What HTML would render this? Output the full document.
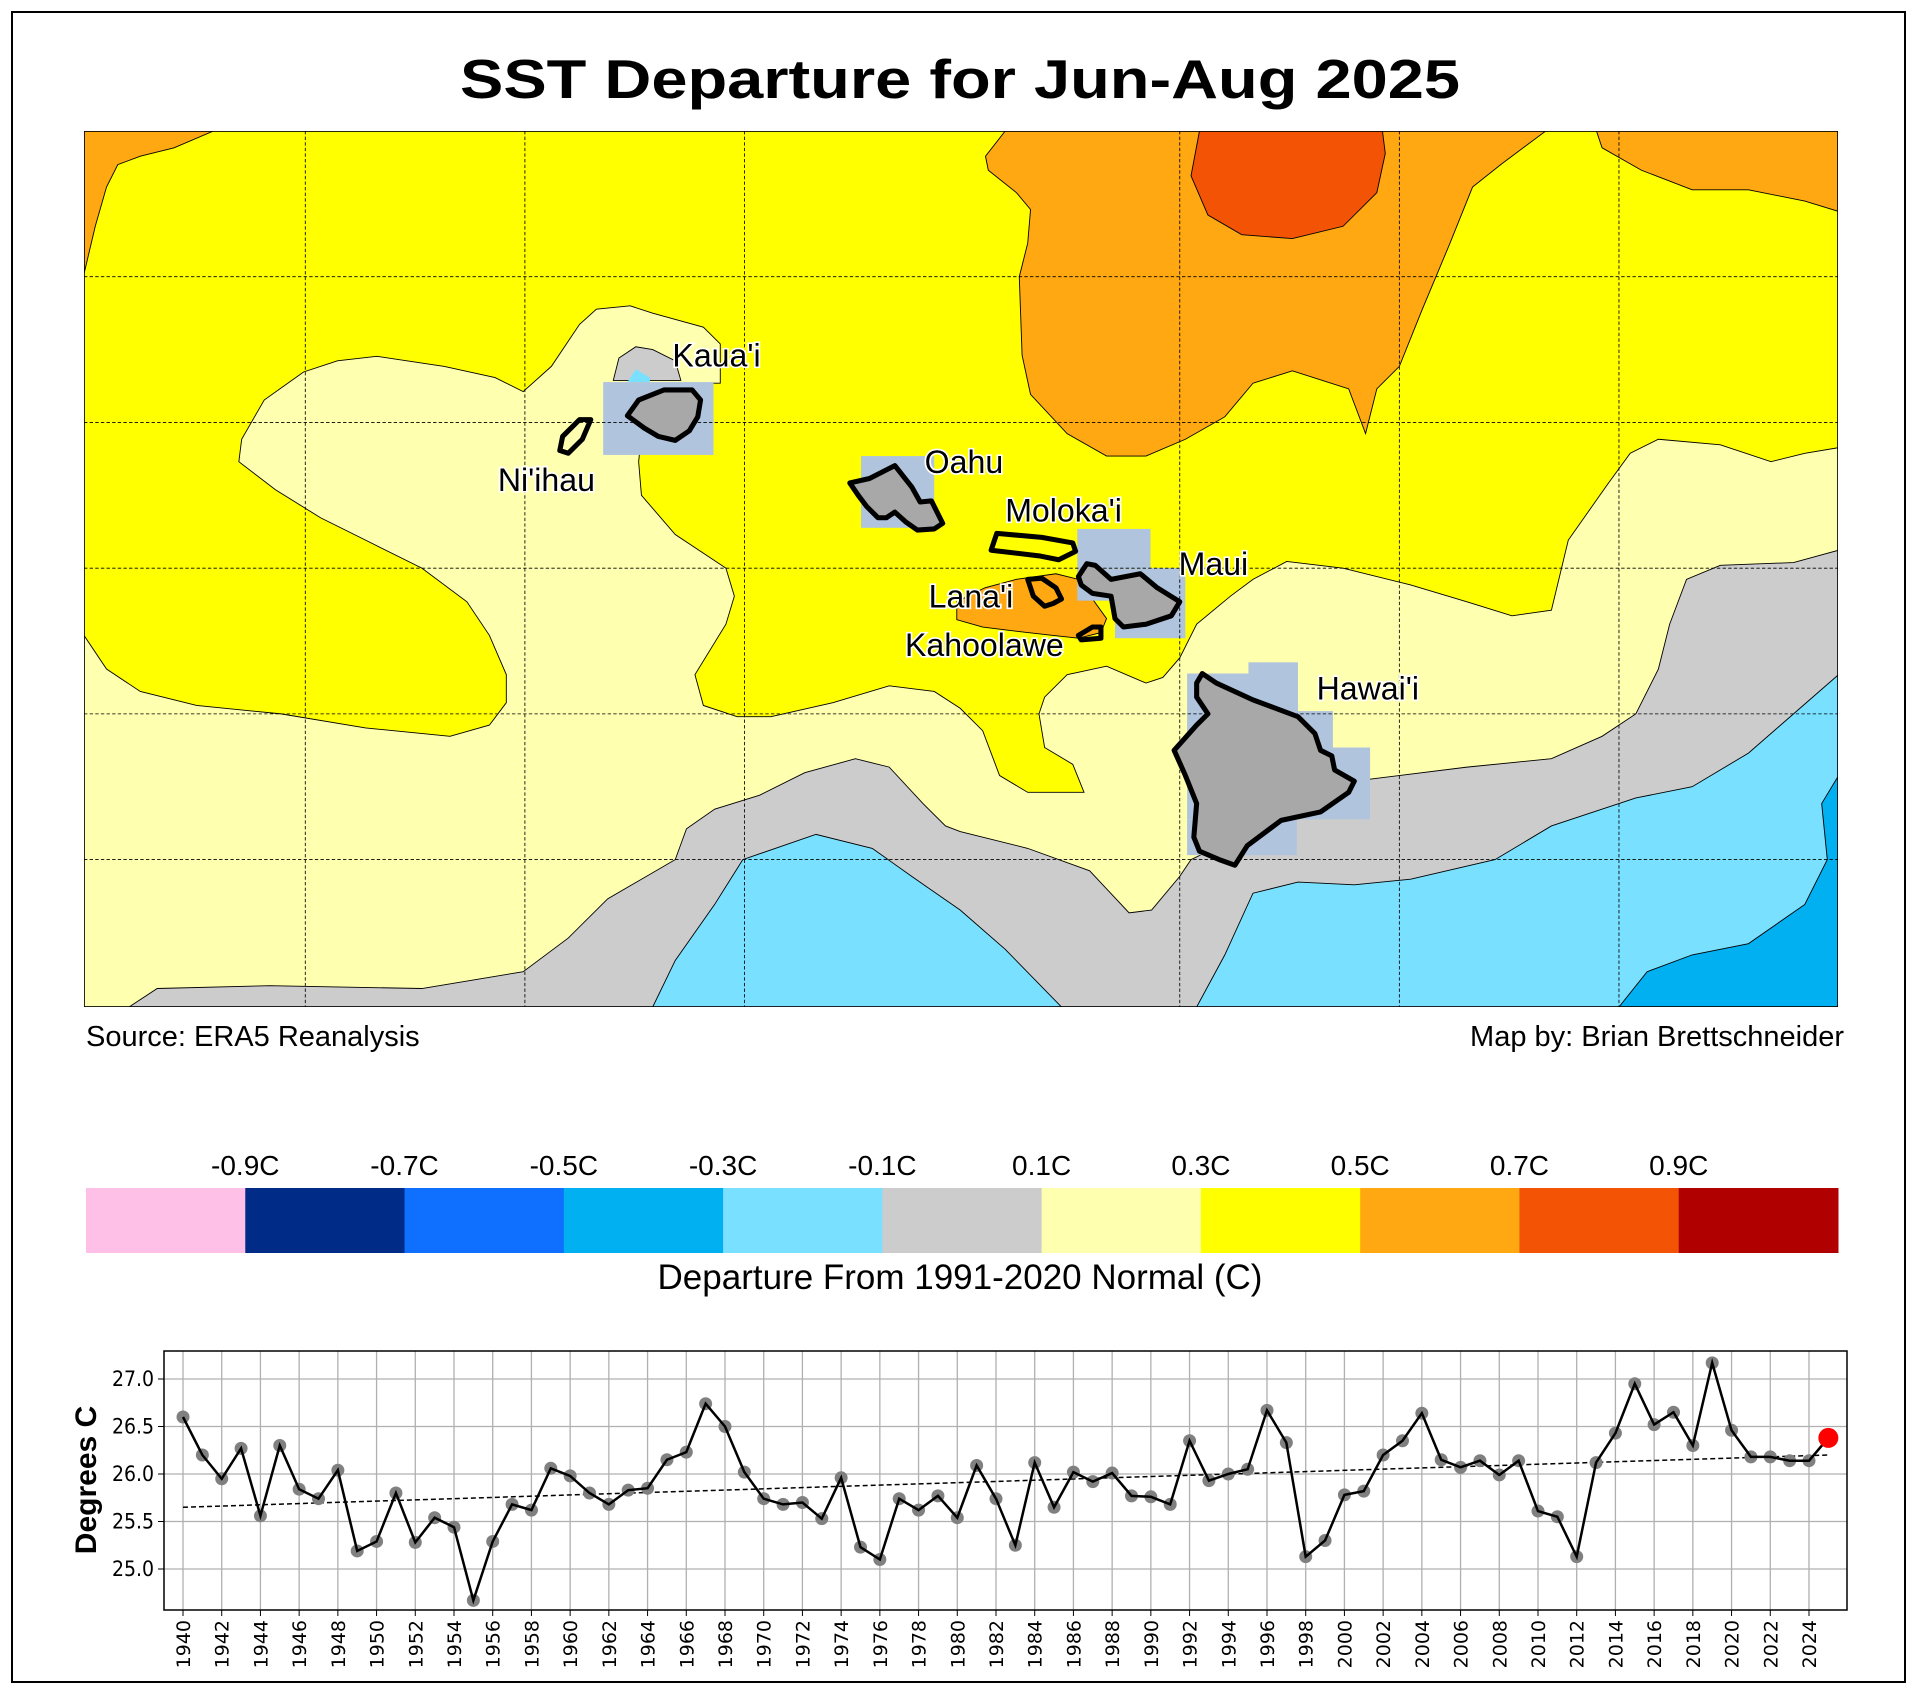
<!DOCTYPE html>
<html><head><meta charset="utf-8"><style>
html,body{margin:0;padding:0;background:#fff;width:1917px;height:1692px;overflow:hidden}
svg{display:block}
text{font-family:"Liberation Sans","DejaVu Sans",sans-serif}
.lbl{font-size:57px;fill:#000;stroke:#fff;stroke-width:6px;paint-order:stroke;}
</style></head><body>
<svg id="s" width="1917" height="1692" viewBox="0 0 1917 1692" xmlns="http://www.w3.org/2000/svg">
<rect x="0" y="0" width="1917" height="1692" fill="#fff"/>
<rect x="12" y="12" width="1893" height="1670" fill="none" stroke="#000" stroke-width="2"/>
<text x="960" y="98" text-anchor="middle" font-size="55" font-weight="bold" textLength="1000" lengthAdjust="spacingAndGlyphs">SST Departure for Jun-Aug 2025</text>

<svg x="84" y="131" width="1754" height="876" viewBox="0 0 3115 1563" preserveAspectRatio="none">
<g stroke="#000" stroke-width="1.6">
<rect x="0" y="0" width="3115" height="1563" fill="#ffff00" stroke="none"/>
<polygon fill="#ffa812" points="0,0 230,0 160,30 100,45 60,60 40,100 20,170 0,255"/>
<g transform="translate(1556,0)">
<polygon fill="#ffa812" points="80,0 45,45 50,70 100,110 125,140 120,200 105,260 110,400 125,470 190,540 260,580 330,580 400,550 470,510 520,450 590,428 690,460 720,540 740,460 780,420 820,320 870,200 910,100 960,60 1040,0"/>
<polygon fill="#ffa812" points="1130,0 1140,30 1210,70 1300,105 1400,105 1500,125 1565,145 1565,0"/>
<polygon fill="#f25305" points="425,0 410,80 440,150 500,185 590,192 680,170 740,110 755,40 750,0"/>
</g>
<polygon fill="#ffffb0" points="0,900 40,960 100,1000 200,1025 350,1040 500,1065 650,1080 720,1060 750,1020 750,970 720,900 680,840 600,780 500,730 420,690 340,640 275,590 280,550 320,480 390,430 450,410 520,402 640,420 730,440 780,465 830,420 880,345 910,318 970,312 1010,325 1100,350 1130,380 1130,450 1000,450 985,590 990,650 1050,720 1140,780 1155,830 1140,880 1085,970 1100,1025 1160,1045 1220,1045 1330,1020 1430,990 1510,1000 1556,1030 1596,1070 1626,1150 1676,1180 1776,1180 1756,1130 1706,1100 1696,1040 1706,1010 1746,970 1816,955 1886,985 1916,975 1946,940 1976,880 2036,830 2076,800 2136,768 2236,780 2356,810 2456,840 2536,865 2606,855 2636,730 2706,630 2746,575 2796,550 2906,560 2996,590 3056,575 3116,565 3116,1563 0,1563"/>
<polygon fill="#cccccc" points="940,445 950,405 980,385 1010,390 1050,410 1060,445"/>
<polygon fill="#7ae0ff" stroke="none" points="965,448 980,425 1005,440 1005,448"/>
<polygon fill="#ffa812" points="1550,840 1600,815 1656,800 1726,790 1766,800 1816,870 1806,895 1766,905 1676,895 1596,885 1550,872"/>
<polygon fill="#cccccc" points="80,1563 130,1530 330,1525 600,1530 780,1500 860,1440 930,1370 1050,1300 1070,1245 1120,1210 1200,1185 1280,1145 1370,1120 1430,1135 1490,1200 1530,1240 1556,1250 1676,1280 1786,1320 1856,1395 1896,1390 1946,1330 1966,1300 2256,1160 2296,1155 2456,1135 2606,1120 2696,1080 2756,1040 2796,960 2816,880 2846,800 2906,775 3036,770 3116,748 3116,1563"/>
<polygon fill="#7ae0ff" points="1010,1563 1050,1480 1120,1380 1170,1300 1300,1255 1400,1280 1470,1330 1556,1390 1636,1460 1736,1563"/>
<polygon fill="#7ae0ff" points="1976,1563 2026,1470 2076,1360 2156,1340 2256,1345 2356,1335 2506,1300 2606,1240 2756,1190 2856,1170 2956,1110 3036,1040 3116,970 3116,1563"/>
<polygon fill="#00b0f0" points="2726,1563 2776,1500 2856,1470 2956,1450 3056,1380 3096,1300 3086,1200 3116,1150 3116,1563"/>
</g>
<g fill="#b0c4de">
<rect x="922" y="448" width="196" height="130"/>
<rect x="1380" y="580" width="130" height="128"/>
<g transform="translate(1556,0)">
<rect x="208" y="710" width="130" height="70"/>
<rect x="208" y="780" width="192" height="58"/>
<rect x="275" y="838" width="125" height="67"/>
<rect x="512" y="948" width="88" height="20"/>
<rect x="403" y="968" width="197" height="67"/>
<rect x="403" y="1035" width="259" height="65"/>
<rect x="403" y="1100" width="325" height="128"/>
<rect x="403" y="1228" width="195" height="64"/>
</g></g>
<g stroke="#000" stroke-width="1.5" stroke-dasharray="6,4" fill="none">
<line x1="393" y1="0" x2="393" y2="1563"/><line x1="783" y1="0" x2="783" y2="1563"/><line x1="1173" y1="0" x2="1173" y2="1563"/>
<line x1="1946" y1="0" x2="1946" y2="1563"/><line x1="2336" y1="0" x2="2336" y2="1563"/><line x1="2726" y1="0" x2="2726" y2="1563"/>
<line x1="0" y1="260" x2="3115" y2="260"/><line x1="0" y1="520" x2="3115" y2="520"/><line x1="0" y1="780" x2="3115" y2="780"/><line x1="0" y1="1040" x2="3115" y2="1040"/><line x1="0" y1="1300" x2="3115" y2="1300"/>
</g>
<g stroke="#000" stroke-width="9" stroke-linejoin="round">
<polygon fill="none" points="850,545 880,515 900,515 885,550 860,575 845,570"/>
<polygon fill="#a8a8a8" points="965,508 985,480 1030,462 1080,462 1095,480 1090,510 1075,535 1050,552 1020,545 995,530"/>
<polygon fill="#a8a8a8" points="1360,628 1395,620 1440,597 1470,635 1485,662 1505,660 1525,700 1510,710 1480,712 1460,698 1440,680 1425,690 1410,690 1390,670 1375,650"/>
<g transform="translate(1556,0)">
<polygon fill="none" points="65,718 145,725 200,735 205,750 175,765 140,758 55,748"/>
<polygon fill="none" points="120,800 145,798 170,815 180,835 165,843 150,848 130,830"/>
<polygon fill="none" points="210,900 235,885 250,885 250,905 215,908"/>
<polygon fill="#a8a8a8" points="210,795 225,772 240,775 268,800 320,790 350,815 390,840 375,865 330,880 290,885 275,870 268,830 235,825 215,810"/>
<polygon fill="#a8a8a8" points="430,968 455,985 520,1015 600,1045 630,1075 640,1105 660,1115 665,1140 700,1160 690,1180 640,1215 570,1230 510,1275 488,1310 460,1300 425,1285 415,1260 420,1200 400,1150 380,1105 420,1060 440,1040 420,1010 420,985"/>
</g></g>
<g>
<text class="lbl" x="1045" y="420">Kaua'i</text>
<text class="lbl" x="735" y="642">Ni'ihau</text>
<text class="lbl" x="1493" y="610">Oahu</text>
<text class="lbl" x="1636" y="697">Moloka'i</text>
<text class="lbl" x="1944" y="792">Maui</text>
<text class="lbl" x="1500" y="850">Lana'i</text>
<text class="lbl" x="1458" y="937">Kahoolawe</text>
<text class="lbl" x="2189" y="1014">Hawai'i</text>
</g>
<rect x="0" y="0" width="3115" height="1563" fill="none" stroke="#000" stroke-width="3"/>
</svg>

<text x="86" y="1046" font-size="29">Source: ERA5 Reanalysis</text>
<text x="1844" y="1046" font-size="29" text-anchor="end">Map by: Brian Brettschneider</text>

<g id="cb"></g>
<text x="960" y="1289" font-size="35" text-anchor="middle">Departure From 1991-2020 Normal (C)</text>

<g id="ts"></g>
</svg>
<script>
var NS="http://www.w3.org/2000/svg";
function el(p,t,a,txt){var e=document.createElementNS(NS,t);for(var k in a)e.setAttribute(k,a[k]);if(txt!==undefined)e.textContent=txt;p.appendChild(e);return e;}
var cb=document.getElementById('cb');
var cols=["#ffc0e8","#002b87","#0f6fff","#00b0f0","#7ae0ff","#cccccc","#ffffb0","#ffff00","#ffa812","#f25305","#b00000"];
var w=(1838-86)/11;
cols.forEach(function(c,i){el(cb,'rect',{x:86+i*w,y:1188,width:w+0.5,height:65,fill:c});});
var labs=["-0.9C","-0.7C","-0.5C","-0.3C","-0.1C","0.1C","0.3C","0.5C","0.7C","0.9C"];
labs.forEach(function(l,i){el(cb,'text',{x:86+(i+1)*w,y:1175,'font-size':28,'text-anchor':'middle'},l);});
var ts=document.getElementById('ts');
var L=164,R=1847,T=1351,B=1610;
function X(y){return 183+(y-1940)*19.357;}
function Y(v){return 1379+(27-v)*95;}
var g=el(ts,'g',{stroke:'#b0b0b0','stroke-width':1.3});
for(var yr=1940;yr<=2024;yr+=2){el(g,'line',{x1:X(yr),y1:T,x2:X(yr),y2:B});}
[25,25.5,26,26.5,27].forEach(function(v){el(g,'line',{x1:L,y1:Y(v),x2:R,y2:Y(v)});
 el(ts,'line',{x1:L-6,y1:Y(v),x2:L,y2:Y(v),stroke:'#000'});
 el(ts,'text',{x:L-10,y:Y(v)+7,'font-size':21,'text-anchor':'end',style:'font-family:"DejaVu Sans Condensed","DejaVu Sans",sans-serif'},v.toFixed(1));});
for(var yr=1940;yr<=2024;yr+=2){el(ts,'line',{x1:X(yr),y1:B,x2:X(yr),y2:B+6,stroke:'#000'});
 el(ts,'text',{x:0,y:0,'font-size':19,'text-anchor':'end',style:'font-family:"DejaVu Sans",sans-serif',transform:'translate('+(X(yr)+7)+','+(B+10)+') rotate(-90)'},String(yr));}
var v=[26.6,26.2,25.95,26.27,25.56,26.3,25.84,25.74,26.04,25.19,25.29,25.8,25.28,25.54,25.44,24.67,25.29,25.68,25.62,26.06,25.98,25.8,25.68,25.83,25.85,26.15,26.23,26.74,26.5,26.02,25.74,25.68,25.7,25.53,25.96,25.23,25.1,25.74,25.62,25.77,25.54,26.09,25.74,25.25,26.12,25.65,26.02,25.92,26.01,25.77,25.76,25.68,26.35,25.93,26.0,26.05,26.67,26.33,25.13,25.3,25.78,25.82,26.2,26.35,26.64,26.15,26.07,26.14,25.99,26.14,25.61,25.55,25.13,26.12,26.43,26.95,26.52,26.65,26.3,27.17,26.46,26.18,26.18,26.14,26.14,26.38];
el(ts,'line',{x1:X(1940),y1:Y(25.65),x2:X(2025),y2:Y(26.2),stroke:'#000','stroke-width':1.5,'stroke-dasharray':'5,3'});
for(var i=0;i<v.length-1;i++){el(ts,'circle',{cx:X(1940+i),cy:Y(v[i]),r:6.5,fill:'#808080'});}
var pts=v.map(function(a,i){return X(1940+i)+','+Y(a);}).join(' ');
el(ts,'polyline',{points:pts,fill:'none',stroke:'#000','stroke-width':2.5});
el(ts,'circle',{cx:X(2025),cy:Y(26.38),r:10,fill:'#ff0000'});
el(ts,'rect',{x:L,y:T,width:R-L,height:B-T,fill:'none',stroke:'#000','stroke-width':1.5});
el(ts,'text',{x:0,y:0,'font-size':30,'font-weight':'bold','text-anchor':'middle',transform:'translate(96,1480) rotate(-90)'},'Degrees C');
</script>
</body></html>
